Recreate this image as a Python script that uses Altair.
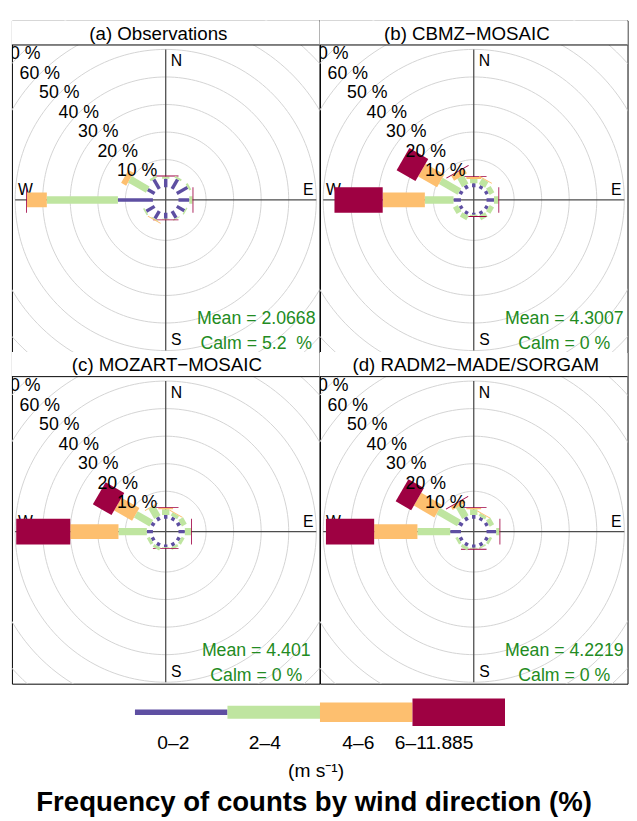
import altair as alt
import pandas as pd
import numpy as np

# ---------------- data ----------------
dirs = [0, 30, 60, 90, 120, 150, 180, 210, 240, 270, 300, 330]
speed_bins = ["0–2", "2–4", "4–6", "6–11.885"]
colors = ["#5E4FA2", "#BFE5A0", "#FDBF6F", "#9E0142"]

panel_titles = ["(a) Observations", "(b) CBMZ−MOSAIC",
                "(c) MOZART−MOSAIC", "(d) RADM2−MADE/SORGAM"]
mean_text = ["Mean = 2.0668", "Mean = 4.3007", "Mean = 4.401", "Mean = 4.2219"]
calm_text = ["Calm = 5.2\u00a0 %", "Calm = 0 %", "Calm = 0 %", "Calm = 0 %"]

# frequencies (%) per direction for each speed interval
obs_0_2 = [3.1, 4.0, 4.5, 3.9, 3.2, 2.9, 2.2, 3.2, 3.5, 12.7, 2.9, 4.0]
obs_2_4 = [0.8, 0.7, 0.8, 1.2, 0.5, 0.4, 0.2, 0.3, 0.6, 25.8, 7.5, 0.8]
obs_4_6 = [0.0, 0.0, 0.0, 0.0, 0.0, 0.0, 0.0, 0.3, 0.0, 7.2, 2.1, 0.0]
obs_6_12 = [0.3, 0.0, 0.0, 0.3, 0.0, 0.0, 0.3, 0.0, 0.0, 0.3, 0.0, 0.0]

cbmz_0_2 = [1.4, 1.3, 1.3, 2.7, 1.3, 1.3, 0.7, 1.3, 1.3, 2.7, 1.4, 1.5]
cbmz_2_4 = [1.6, 2.4, 1.9, 1.6, 1.8, 1.8, 0.5, 1.8, 2.0, 10.4, 7.8, 3.5]
cbmz_4_6 = [0.7, 0.3, 0.0, 0.0, 0.0, 0.0, 0.0, 0.0, 0.0, 15.3, 7.9, 2.0]
cbmz_6_12 = [0.3, 0.0, 0.0, 0.3, 0.0, 0.0, 0.3, 0.0, 0.0, 17.5, 7.9, 0.3]

moz_0_2 = [1.4, 1.3, 1.4, 2.3, 1.3, 1.3, 1.0, 1.3, 1.3, 2.2, 1.4, 1.4]
moz_2_4 = [2.1, 1.4, 2.0, 2.3, 1.2, 1.0, 0.3, 1.2, 1.2, 10.3, 6.5, 4.2]
moz_4_6 = [0.5, 0.3, 0.0, 0.0, 0.0, 0.0, 0.0, 0.0, 0.0, 17.5, 7.5, 0.3]
moz_6_12 = [0.3, 0.0, 0.0, 0.3, 0.0, 0.0, 0.3, 0.0, 0.0, 19.6, 7.8, 0.0]

radm_0_2 = [1.4, 1.2, 1.3, 3.5, 1.3, 1.3, 1.2, 1.3, 1.3, 3.9, 1.6, 1.4]
radm_2_4 = [2.1, 1.2, 1.8, 1.2, 1.0, 0.6, 0.4, 1.2, 1.0, 11.9, 8.7, 4.6]
radm_4_6 = [0.4, 0.3, 0.0, 0.0, 0.0, 0.0, 0.0, 0.0, 0.0, 15.7, 8.6, 1.3]
radm_6_12 = [0.3, 0.0, 0.0, 0.3, 0.0, 0.0, 0.3, 0.0, 0.0, 17.5, 6.5, 0.3]

panels_data = [
    [obs_0_2, obs_2_4, obs_4_6, obs_6_12],
    [cbmz_0_2, cbmz_2_4, cbmz_4_6, cbmz_6_12],
    [moz_0_2, moz_2_4, moz_4_6, moz_6_12],
    [radm_0_2, radm_2_4, radm_4_6, radm_6_12],
]

ring_levels = [10, 20, 30, 40, 50, 60, 70]
ring_labels = [f"{v} %" for v in ring_levels]
axis_extent = 50          # % reached by the N-S / E-W axis lines
compass = ["N", "E", "S", "W"]
compass_dirs = [0, 90, 180, 270]
unit_label = "(m s⁻¹)"
main_title_text = "Frequency of counts by wind direction (%)"

# ---------------- layout / style ----------------
FONT = "Liberation Sans"
PX = 2.8                  # pixels per percent
OFF = 13 / PX             # hole in the middle
W, H = 312.5, 337         # panel (incl. strip)
CY = 182.5                # px from top of panel to centre
STRIP = 25
xs = alt.Scale(domain=[-W / 2 / PX, W / 2 / PX], nice=False, zero=False)
ys = alt.Scale(domain=[-(H - CY) / PX, CY / PX], nice=False, zero=False)
title_dx = [-7.5, -7, 1.2, 2]
paddle_w = [3.5, 7.5, 15, 26]
ang = list(range(0, 362, 2))

# key (drawn below the grid, in px relative to the lower-left panel)
LW, LH = 626, 127
key_w = [5.5, 13, 20, 28]
key_label_dx = [39, 38, 39, 22]
key_pos = {"bar_y": 29, "lab_y": 66.7, "unit_y": 95, "title_y": 129}
lx = alt.Scale(domain=[0, LW], range=[0, LW], nice=False, zero=False)
ly = alt.Scale(domain=[0, LH], range=[H, H + LH], nice=False, zero=False)


def X(f):
    return alt.X(f, type="quantitative", scale=xs, axis=None)


def Y(f):
    return alt.Y(f, type="quantitative", scale=ys, axis=None)


def KX(f):
    return alt.X(f, type="quantitative", scale=lx, axis=None)


def KY(f):
    return alt.Y(f, type="quantitative", scale=ly, axis=None)


def key_layers():
    key_df = pd.DataFrame({"bin": speed_bins, "k": [0, 1, 2, 3], "ldx": key_label_dx})
    bars = alt.Chart(key_df).transform_calculate(
        x="125 + 94 * datum.k", x2="125 + 94 * (datum.k + 1)", y=str(key_pos["bar_y"]),
        w=f"{key_w}[datum.k]",
    ).mark_rule(strokeCap="butt").encode(
        x=KX("x"), x2="x2:Q", y=KY("y"),
        color=alt.Color("bin:N", scale=alt.Scale(domain=speed_bins, range=colors), legend=None),
        strokeWidth=alt.StrokeWidth("w:Q", scale=None, legend=None))
    labels = alt.Chart(key_df).transform_calculate(
        x="125 + 94 * datum.k + datum.ldx", y=str(key_pos["lab_y"])
    ).mark_text(font=FONT, fontSize=19.5, align="center", baseline="alphabetic").encode(
        x=KX("x"), y=KY("y"), text="bin:N")
    unit = alt.Chart(pd.DataFrame({"t": [unit_label]})).transform_calculate(
        x="309", y=str(key_pos["unit_y"])
    ).mark_text(font=FONT, fontSize=19.5, align="center", baseline="alphabetic").encode(
        x=KX("x"), y=KY("y"), text="t:N")
    title = alt.Chart(pd.DataFrame({"t": [main_title_text]})).transform_calculate(
        x="307", y=str(key_pos["title_y"])
    ).mark_text(font=FONT, fontSize=28, fontWeight="bold", align="center",
                baseline="alphabetic").encode(x=KX("x"), y=KY("y"), text="t:N")
    return [bars, labels, unit, title]


def panel(i):
    vals = panels_data[i]
    rows = []
    for j, d in enumerate(dirs):
        c = 0.0
        for k in range(4):
            v = vals[k][j]
            if v > 0:
                rows.append({"dir": d, "bin": speed_bins[k], "k": k, "c0": c, "c1": c + v})
            c += v
    bars_df = pd.DataFrame(rows)

    ring_df = pd.DataFrame([{"ring": r, "a": a} for r in ring_levels for a in ang])
    rings = alt.Chart(ring_df).transform_calculate(
        rr=f"{OFF} + datum.ring",
        x="datum.rr * sin(datum.a * PI / 180)",
        y="datum.rr * cos(datum.a * PI / 180)",
    ).mark_line(color="#D3D3D3", strokeWidth=1, clip=True).encode(
        x=X("x"), y=Y("y"), detail="ring:N", order="a:Q")

    axes = alt.Chart(pd.DataFrame({"dir": [0, 90]})).transform_calculate(
        R=f"{OFF} + {axis_extent}",
        x="-datum.R * sin(datum.dir * PI / 180)",
        y="-datum.R * cos(datum.dir * PI / 180)",
        x2="datum.R * sin(datum.dir * PI / 180)",
        y2="datum.R * cos(datum.dir * PI / 180)",
    ).mark_rule(color="#4d4d4d", strokeWidth=1.3, clip=True).encode(
        x=X("x"), y=Y("y"), x2="x2:Q", y2="y2:Q")

    lab_layers = []
    specs = {"N": ("left", "top", 5, 1), "E": ("right", "bottom", 0, -2),
             "S": ("left", "bottom", 5.5, 0), "W": ("left", "bottom", 0, -2)}
    for name, d in zip(compass, compass_dirs):
        al, bl, dx, dy = specs[name]
        lab_layers.append(
            alt.Chart(pd.DataFrame({"lab": [name], "dir": [d]})).transform_calculate(
                R=f"{OFF} + 49",
                x="datum.R * sin(datum.dir * PI / 180)",
                y="datum.R * cos(datum.dir * PI / 180)",
            ).mark_text(font=FONT, fontSize=16, align=al, baseline=bl, dx=dx, dy=dy,
                        color="black", clip=True).encode(
                x=X("x"), y=Y("y"), text="lab:N"))

    bars = alt.Chart(bars_df).transform_calculate(
        r0=f"{OFF} + datum.c0",
        r1=f"{OFF} + datum.c1",
        x="datum.r0 * sin(datum.dir * PI / 180)",
        y="datum.r0 * cos(datum.dir * PI / 180)",
        x2="datum.r1 * sin(datum.dir * PI / 180)",
        y2="datum.r1 * cos(datum.dir * PI / 180)",
        w=f"{paddle_w}[datum.k]",
    ).mark_rule(strokeCap="butt", clip=True).encode(
        x=X("x"), y=Y("y"), x2="x2:Q", y2="y2:Q",
        color=alt.Color("bin:N", scale=alt.Scale(domain=speed_bins, range=colors), legend=None),
        strokeWidth=alt.StrokeWidth("w:Q", scale=None, legend=None),
    )

    pct = alt.Chart(pd.DataFrame({"ring": ring_levels, "lab": ring_labels})).transform_calculate(
        rr=f"{OFF} + datum.ring",
        x="-datum.rr / sqrt(2)",
        y="datum.rr / sqrt(2)",
    ).mark_text(font=FONT, fontSize=18, align="center", baseline="middle",
                color="black", clip=True).encode(x=X("x"), y=Y("y"), text="lab:N")

    stats = alt.Chart(pd.DataFrame({"t": [mean_text[i], calm_text[i]],
                                    "y": [-126.4 / PX, -151.4 / PX]})).transform_calculate(
        x=f"{92 / PX}"
    ).mark_text(font=FONT, fontSize=18, align="center", baseline="alphabetic",
                color="#228B22", clip=True).encode(x=X("x"), y=Y("y"), text="t:N")

    strip_bg = alt.Chart(pd.DataFrame({"a": [0]})).mark_rect(color="white").encode(
        x=alt.value(0), x2=alt.value(W), y=alt.value(0), y2=alt.value(STRIP))
    strip_line = alt.Chart(pd.DataFrame({"a": [0]})).mark_rule(color="black", strokeWidth=1).encode(
        x=alt.value(0), x2=alt.value(W), y=alt.value(STRIP))
    title = alt.Chart(pd.DataFrame({"t": [panel_titles[i]]})).mark_text(
        font=FONT, fontSize=19, align="center", baseline="alphabetic",
        dx=title_dx[i], color="black", clip=True).encode(
        x=alt.value(W / 2), y=alt.value(19.5), text="t:N")

    layers = [rings, axes, *lab_layers, bars, pct, stats, strip_bg, strip_line, title]
    if i == 2:
        layers += key_layers()
    ch = alt.layer(*layers).properties(
        width=W, height=H, view=alt.ViewBackground(stroke="black", strokeWidth=1))
    if i == 2:
        ch = ch.resolve_scale(x="independent", y="independent")
    return ch


chart = alt.concat(panel(0), panel(1), panel(2), panel(3), columns=2,
                   spacing=0, bounds="flush").properties(
    padding={"left": 3, "top": 5, "right": 0, "bottom": 0})

chart.save("out.html", embed_options={"renderer": "svg", "actions": False})
